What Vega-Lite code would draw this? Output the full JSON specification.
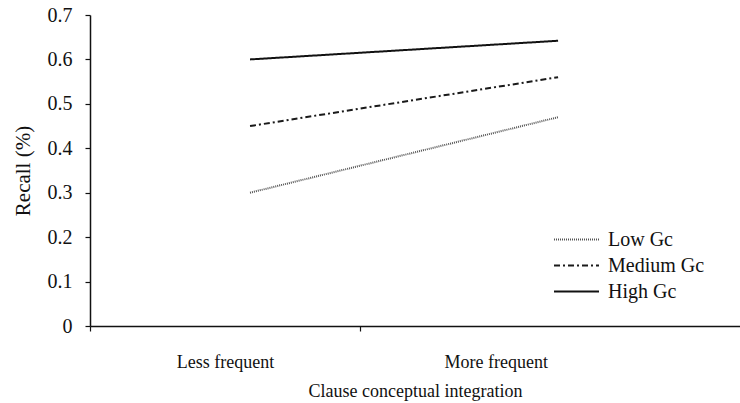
{
  "$schema": "https://vega.github.io/schema/vega-lite/v6.json",
  "width": 650,
  "height": 311,
  "autosize": {"type": "none"},
  "padding": {"left": 90, "top": 15, "right": 0, "bottom": 77},
  "background": "white",
  "config": {
    "view": {"stroke": null},
    "font": "Liberation Serif",
    "axis": {"labelFont": "Liberation Serif", "titleFont": "Liberation Serif", "labelColor": "#111", "titleColor": "#111", "domainColor": "#111", "tickColor": "#111", "titleFontWeight": "normal", "grid": false},
    "legend": {"labelFont": "Liberation Serif", "labelColor": "#111"}
  },
  "data": {
    "values": [
      {"frequency": "Less frequent", "group": "Low Gc", "recall": 0.30},
      {"frequency": "More frequent", "group": "Low Gc", "recall": 0.47},
      {"frequency": "Less frequent", "group": "Medium Gc", "recall": 0.45},
      {"frequency": "More frequent", "group": "Medium Gc", "recall": 0.56},
      {"frequency": "Less frequent", "group": "High Gc", "recall": 0.60},
      {"frequency": "More frequent", "group": "High Gc", "recall": 0.642}
    ]
  },
  "layer": [
    {
      "mark": {"type": "point", "opacity": 0},
      "encoding": {
        "x": {
          "field": "frequency",
          "type": "ordinal",
          "sort": ["Less frequent", "More frequent"],
          "scale": {"type": "band", "paddingInner": 0, "paddingOuter": 0.2, "align": 0},
          "axis": {
            "orient": "bottom",
            "title": "Clause conceptual integration",
            "titleFontSize": 18,
            "titlePadding": 11,
            "labelFontSize": 18,
            "labelPadding": 22,
            "labelAngle": 0,
            "bandPosition": 0,
            "tickSize": 5,
            "domainWidth": 1.5,
            "tickWidth": 1.2
          }
        }
      }
    },
    {
      "mark": {"type": "line", "strokeWidth": 2},
      "encoding": {
        "x": {
          "field": "frequency",
          "type": "ordinal",
          "sort": ["Less frequent", "More frequent"],
          "scale": {"type": "point", "padding": 0.555, "align": 0.468},
          "axis": null
        },
        "y": {
          "field": "recall",
          "type": "quantitative",
          "scale": {"domain": [0, 0.7], "nice": false},
          "axis": {
            "title": "Recall (%)",
            "titleFontSize": 21,
            "titlePadding": 14,
            "labelFontSize": 20,
            "labelPadding": 13,
            "tickSize": 5,
            "values": [0, 0.1, 0.2, 0.3, 0.4, 0.5, 0.6, 0.7],
            "format": "~g",
            "domainWidth": 1.5,
            "tickWidth": 1.2
          }
        },
        "detail": {"field": "group"},
        "strokeDash": {
          "field": "group",
          "type": "nominal",
          "scale": {"domain": ["Low Gc", "Medium Gc", "High Gc"], "range": [[1, 1], [6, 3, 2, 3], [1, 0]]},
          "legend": {
            "title": null,
            "orient": "none",
            "legendX": 474,
            "legendY": 212,
            "padding": 0,
            "labelFontSize": 20,
            "labelOffset": 19,
            "rowPadding": 3,
            "symbolType": "M-2,0H2",
            "symbolSize": 506,
            "symbolStrokeWidth": 1.8,
            "symbolFillColor": "transparent"
          }
        },
        "color": {
          "field": "group",
          "type": "nominal",
          "scale": {"domain": ["Low Gc", "Medium Gc", "High Gc"], "range": ["#555555", "#1a1a1a", "#111111"]},
          "legend": {
            "title": null,
            "orient": "none",
            "legendX": 474,
            "legendY": 212,
            "padding": 0,
            "labelFontSize": 20,
            "labelOffset": 19,
            "rowPadding": 3,
            "symbolType": "M-2,0H2",
            "symbolSize": 506,
            "symbolStrokeWidth": 1.8,
            "symbolFillColor": "transparent"
          }
        }
      }
    }
  ],
  "resolve": {"scale": {"x": "independent"}, "axis": {"x": "independent"}}
}
